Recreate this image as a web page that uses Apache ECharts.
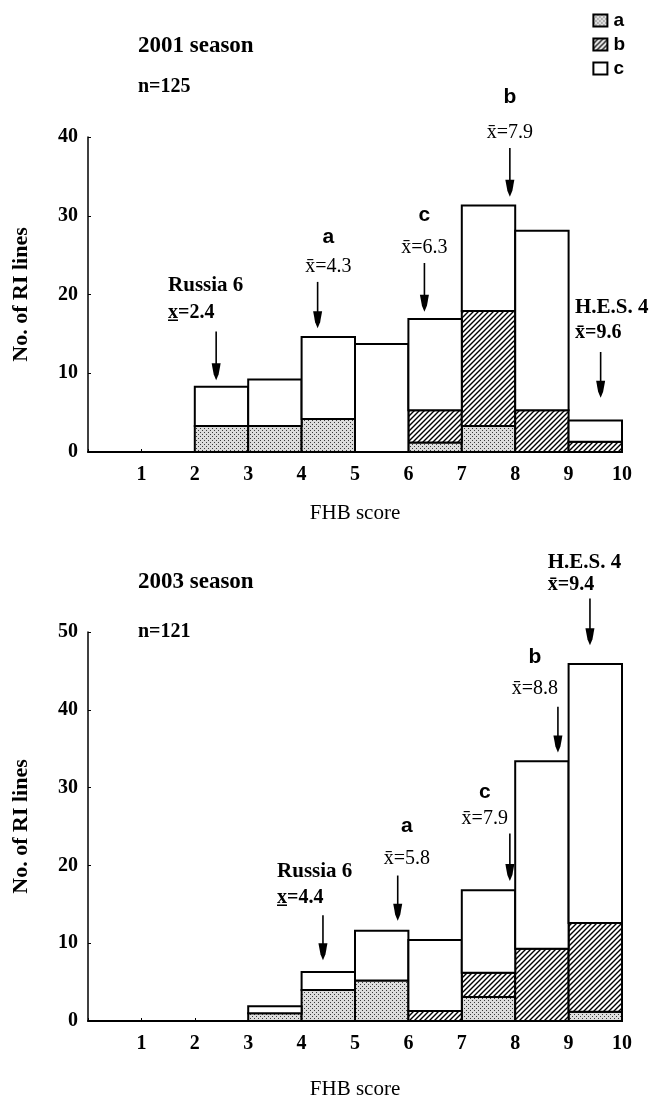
<!DOCTYPE html>
<html>
<head>
<meta charset="utf-8">
<script src="https://cdn.jsdelivr.net/npm/echarts@6/dist/echarts.min.js"></script>
<style>
  html, body { margin: 0; padding: 0; background: #fff; }
  #chart { width: 657px; height: 1101px; }
</style>
</head>
<body>
<div id="chart"></div>
<script>
  // bins are 0-1, 1-2, ... 9-10 (lower edge)
  const binStarts = [0, 1, 2, 3, 4, 5, 6, 7, 8, 9];
  const groupNames = ['a', 'b', 'c'];

  // 2001 season, counts per group
  const a2001 = [0, 0, 3.3, 3.3, 4.2, 0, 1.2, 3.3, 0, 0];
  const b2001 = [0, 0, 0, 0, 0, 0, 4.1, 14.6, 5.3, 1.3];
  const c2001 = [0, 0, 5.0, 5.9, 10.4, 13.7, 11.6, 13.4, 22.8, 2.7];

  // 2003 season
  const a2003 = [0, 0, 0, 1.0, 4.0, 5.2, 0, 3.1, 0, 1.2];
  const b2003 = [0, 0, 0, 0, 0, 0, 1.3, 3.1, 9.3, 11.4];
  const c2003 = [0, 0, 0, 0.9, 2.3, 6.4, 9.1, 10.6, 24.1, 33.3];

  // mean markers: label, mean, arrow from/to (y units), text x and heights
  const meanNames2001 = ['Russia 6', 'a', 'c', 'b', 'H.E.S. 4'];
  const meanValues2001 = [2.4, 4.3, 6.3, 7.9, 9.6];
  const arrowTop2001 = [15.3, 21.6, 24.0, 38.6, 12.7];
  const arrowTip2001 = [9.1, 15.7, 17.8, 32.4, 6.9];
  const labelX2001 = [1.5, 4.5, 6.3, 7.9, 9.12];
  const nameY2001 = [21.1, 27.3, 30.1, 45.1, 18.3];
  const meanY2001 = [17.7, 23.5, 25.9, 40.6, 15.1];

  const meanNames2003 = ['Russia 6', 'a', 'c', 'b', 'H.E.S. 4'];
  const meanValues2003 = [4.4, 5.8, 7.9, 8.8, 9.4];
  const arrowTop2003 = [13.6, 18.7, 24.1, 40.4, 54.3];
  const arrowTip2003 = [7.8, 12.9, 18.0, 34.5, 48.3];
  const labelX2003 = [3.54, 5.97, 7.43, 8.37, 8.61];
  const nameY2003 = [19.2, 25.1, 29.4, 46.8, 58.9];
  const meanY2003 = [15.8, 20.9, 26.0, 42.7, 56.1];

  const serif = '"Liberation Serif", "Times New Roman", serif';
  const sans = '"Liberation Sans", Arial, sans-serif';

  function dotPattern() {
    const c = document.createElement('canvas');
    c.width = c.height = 4;
    const g = c.getContext('2d');
    g.fillStyle = '#dcdcdc';
    g.fillRect(0, 0, 4, 4);
    g.fillStyle = '#3a3a3a';
    g.fillRect(0, 0, 1, 1);
    g.fillRect(2, 2, 1, 1);
    return c;
  }

  function hatchPattern() {
    const s = 5;
    const c = document.createElement('canvas');
    c.width = c.height = s;
    const g = c.getContext('2d');
    g.fillStyle = '#fff';
    g.fillRect(0, 0, s, s);
    g.strokeStyle = '#000';
    g.lineWidth = 1.4;
    g.beginPath();
    g.moveTo(0, s); g.lineTo(s, 0);
    g.moveTo(-1, 1); g.lineTo(1, -1);
    g.moveTo(s - 1, s + 1); g.lineTo(s + 1, s - 1);
    g.stroke();
    return c;
  }

  const fills = {
    a: { image: dotPattern(), repeat: 'repeat' },
    b: { image: hatchPattern(), repeat: 'repeat' },
    c: '#ffffff'
  };

  function stacked(groups) {
    const base = binStarts.map(() => 0);
    return groups.map(vals => binStarts.map((x, i) => {
      const lo = base[i];
      base[i] += vals[i];
      return [x, lo, base[i]];
    }));
  }

  function barSeries(groups, axisIdx) {
    return stacked(groups).map((data, k) => {
      const fill = fills[groupNames[k]];
      return {
        name: groupNames[k],
        type: 'custom',
        xAxisIndex: axisIdx,
        yAxisIndex: axisIdx,
        itemStyle: { color: fill, borderColor: '#000', borderWidth: 1 },
        encode: { x: 0, y: [1, 2] },
        data: data,
        renderItem: function (params, api) {
          const x0 = api.value(0), lo = api.value(1), hi = api.value(2);
          if (hi - lo <= 0) return null;
          const p0 = api.coord([x0, hi]);
          const p1 = api.coord([x0 + 1, lo]);
          return {
            type: 'rect',
            shape: { x: p0[0], y: p0[1], width: p1[0] - p0[0], height: p1[1] - p0[1] },
            style: { fill: fill, stroke: '#000', lineWidth: 2 }
          };
        }
      };
    });
  }

  function noteSeries(names, means, tops, tips, labelX, nameY, meanY, axisIdx) {
    return {
      type: 'custom',
      xAxisIndex: axisIdx,
      yAxisIndex: axisIdx,
      clip: false,
      silent: true,
      data: means.map((m, i) => [m, tops[i], tips[i], labelX[i], nameY[i], meanY[i], i]),
      renderItem: function (params, api) {
        const i = api.value(6);
        const name = names[i];
        const isGroup = name.length === 1;
        const underline = name === 'Russia 6';
        const top = api.coord([api.value(0), api.value(1)]);
        const tip = api.coord([api.value(0), api.value(2)]);
        const np = api.coord([api.value(3), api.value(4)]);
        const mp = api.coord([api.value(3), api.value(5)]);
        const align = isGroup ? 'center' : 'left';
        const meanText = 'x' + (underline ? '\u0332' : '\u0304') + '=' + means[i].toFixed(1);
        return {
          type: 'group',
          children: [
            { type: 'line', shape: { x1: top[0], y1: top[1], x2: tip[0], y2: tip[1] - 10 },
              style: { stroke: '#000', lineWidth: 1.6 } },
            { type: 'polygon', shape: { points: [
                [tip[0] - 4.5, tip[1] - 17], [tip[0] + 4.5, tip[1] - 17],
                [tip[0] + 2.5, tip[1] - 6], [tip[0], tip[1]], [tip[0] - 2.5, tip[1] - 6]] },
              style: { fill: '#000' } },
            { type: 'text', x: np[0], y: np[1],
              style: { text: name, fill: '#000', align: align, verticalAlign: 'middle',
                fontFamily: isGroup ? sans : serif, fontWeight: 'bold', fontSize: 21 } },
            { type: 'text', x: mp[0], y: mp[1],
              style: { text: meanText, fill: '#000', align: align, verticalAlign: 'middle',
                fontFamily: serif, fontWeight: isGroup ? 'normal' : 'bold', fontSize: 20 } }
          ]
        };
      }
    };
  }

  function xAxisFor(idx, gap) {
    return {
      gridIndex: idx, type: 'value', min: 0, max: 10, interval: 1,
      axisLine: { lineStyle: { color: '#000', width: 2 } },
      axisTick: { inside: true, length: 3, lineStyle: { color: '#000' } },
      splitLine: { show: false },
      axisLabel: {
        color: '#000', fontFamily: serif, fontWeight: 'bold', fontSize: 20, margin: 13,
        formatter: v => (v === 0 ? '' : String(v))
      },
      name: 'FHB score', nameLocation: 'middle', nameGap: gap,
      nameTextStyle: { color: '#000', fontFamily: serif, fontSize: 21 }
    };
  }

  function yAxisFor(idx, max) {
    return {
      gridIndex: idx, type: 'value', min: 0, max: max, interval: 10,
      axisLine: { show: true, lineStyle: { color: '#000', width: 1.5 } },
      axisTick: { show: true, inside: true, length: 3, lineStyle: { color: '#000' } },
      splitLine: { show: false },
      axisLabel: { color: '#000', fontFamily: serif, fontWeight: 'bold', fontSize: 20, margin: 10 },
      name: 'No. of RI lines', nameLocation: 'middle', nameGap: 56,
      nameTextStyle: { color: '#000', fontFamily: serif, fontWeight: 'bold', fontSize: 22 }
    };
  }

  const chart = echarts.init(document.getElementById('chart'));
  chart.setOption({
    backgroundColor: '#fff',
    animation: false,
    title: [
      { text: '2001 season', left: 133, top: 30,
        textStyle: { fontFamily: serif, fontWeight: 'bold', fontSize: 23, color: '#000' } },
      { text: 'n=125', left: 133, top: 72,
        textStyle: { fontFamily: serif, fontWeight: 'bold', fontSize: 20, color: '#000' } },
      { text: '2003 season', left: 133, top: 566,
        textStyle: { fontFamily: serif, fontWeight: 'bold', fontSize: 23, color: '#000' } },
      { text: 'n=121', left: 133, top: 617,
        textStyle: { fontFamily: serif, fontWeight: 'bold', fontSize: 20, color: '#000' } }
    ],
    legend: {
      data: groupNames, orient: 'vertical', right: 27, top: 6,
      icon: 'rect', itemWidth: 14, itemHeight: 12, itemGap: 5,
      textStyle: { fontFamily: sans, fontWeight: 'bold', fontSize: 19, color: '#000', padding: [0, 0, 0, 1] }
    },
    grid: [
      { left: 88, right: 35, top: 137, height: 315 },
      { left: 88, right: 35, top: 632, height: 392 }
    ],
    xAxis: [xAxisFor(0, 51), xAxisFor(1, 58)],
    yAxis: [yAxisFor(0, 40), yAxisFor(1, 50)],
    series: [
      ...barSeries([a2001, b2001, c2001], 0),
      ...barSeries([a2003, b2003, c2003], 1),
      noteSeries(meanNames2001, meanValues2001, arrowTop2001, arrowTip2001, labelX2001, nameY2001, meanY2001, 0),
      noteSeries(meanNames2003, meanValues2003, arrowTop2003, arrowTip2003, labelX2003, nameY2003, meanY2003, 1)
    ]
  });
</script>
</body>
</html>
